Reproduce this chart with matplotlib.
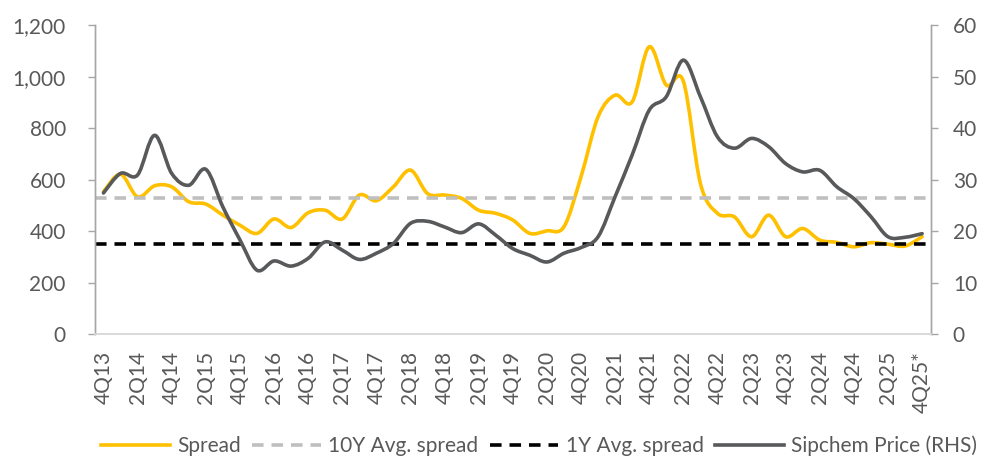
import numpy as np
import matplotlib
matplotlib.use("Agg")
import matplotlib.pyplot as plt
from matplotlib.path import Path
from matplotlib.patches import PathPatch
from matplotlib.lines import Line2D
from matplotlib.ticker import FuncFormatter

plt.rcParams['font.family'] = ['Lato', 'DejaVu Sans']

# Quarterly data, 4Q13 .. 4Q25*
spread = [553, 621, 533, 576, 572, 514, 505, 462, 423, 391,
          447, 414, 471, 481, 447, 540, 518, 572, 637, 546,
          540, 527, 481, 469, 443, 391, 401, 417, 611, 844,
          928, 902, 1116, 967, 982, 585, 469, 455, 378, 462,
          378, 410, 365, 356, 339, 355, 349, 342, 378]
sipchem = [27.4, 31.2, 30.9, 38.6, 31.2, 28.9, 32.0, 24.7, 18.3, 12.4,
           14.2, 13.2, 14.7, 17.9, 16.3, 14.5, 15.7, 17.6, 21.5, 21.9,
           20.8, 19.7, 21.4, 19.2, 16.6, 15.3, 14.0, 15.7, 16.8, 18.9,
           26.7, 34.8, 43.5, 46.1, 53.2, 46.1, 38.3, 36.1, 38.0, 36.4,
           33.1, 31.5, 31.8, 28.6, 26.3, 22.8, 18.9, 18.8, 19.5]
avg_10y = 527
avg_1y = 349
tick_labels = ['4Q13', '2Q14', '4Q14', '2Q15', '4Q15', '2Q16', '4Q16', '2Q17',
               '4Q17', '2Q18', '4Q18', '2Q19', '4Q19', '2Q20', '4Q20', '2Q21',
               '4Q21', '2Q22', '4Q22', '2Q23', '4Q23', '2Q24', '4Q24', '2Q25',
               '4Q25*']

YELLOW = '#FFC000'
DARK = '#58595B'
LIGHT = '#BFBFBF'
TEXT = '#595959'
FS = 15


def smooth_path(x, y):
    # Catmull-Rom style cubic Bezier through every point (like a smoothed line)
    x = np.asarray(x, float)
    y = np.asarray(y, float)
    n = len(x)
    verts = [(x[0], y[0])]
    codes = [Path.MOVETO]
    for i in range(n - 1):
        p0 = np.array([x[max(i - 1, 0)], y[max(i - 1, 0)]])
        p1 = np.array([x[i], y[i]])
        p2 = np.array([x[i + 1], y[i + 1]])
        p3 = np.array([x[min(i + 2, n - 1)], y[min(i + 2, n - 1)]])
        c1 = p1 + (p2 - p0) / 6.0
        c2 = p2 - (p3 - p1) / 6.0
        verts += [tuple(c1), tuple(c2), tuple(p2)]
        codes += [Path.CURVE4] * 3
    return Path(verts, codes)


x = np.arange(len(spread))

fig = plt.figure(figsize=(9.89, 4.57), dpi=100)
ax = fig.add_axes([0.096, 0.269, 0.845, 0.676])
ax2 = ax.twinx()

ax.axhline(avg_10y, color=LIGHT, lw=2.6, ls=(0, (3.2, 2.2)))
ax.axhline(avg_1y, color='black', lw=2.6, ls=(0, (3.2, 2.2)))
ax.add_patch(PathPatch(smooth_path(x, spread), facecolor='none',
                       edgecolor=YELLOW, lw=2.6, capstyle='round',
                       joinstyle='round'))
ax2.add_patch(PathPatch(smooth_path(x, sipchem), facecolor='none',
                        edgecolor=DARK, lw=2.6, capstyle='round',
                        joinstyle='round'))

ax.set_xlim(-0.5, len(spread) - 0.5)
ax.set_ylim(0, 1200)
ax2.set_ylim(0, 60)
ax.set_yticks(np.arange(0, 1201, 200))
ax2.set_yticks(np.arange(0, 61, 10))
ax.yaxis.set_major_formatter(FuncFormatter(lambda v, p: f'{int(v):,}'))

ax.set_xticks(x[::2])
ax.set_xticklabels(tick_labels, rotation=90)

for a in (ax, ax2):
    a.spines['top'].set_visible(False)
    a.spines['left'].set_color('#A6A6A6')
    a.spines['right'].set_color('#A6A6A6')
    a.spines['bottom'].set_color('#D9D9D9')
    a.spines['left'].set_linewidth(1.0)
    a.spines['right'].set_linewidth(1.0)
    a.spines['bottom'].set_linewidth(1.2)
    a.tick_params(axis='y', colors='#A6A6A6', labelcolor=TEXT,
                  labelsize=FS, length=5, width=1.0)
ax.tick_params(axis='y', pad=16)
ax2.tick_params(axis='y', pad=11)
ax.tick_params(axis='x', length=0, labelcolor=TEXT, labelsize=FS, pad=12)

handles = [
    Line2D([], [], color=YELLOW, lw=2.6),
    Line2D([], [], color=LIGHT, lw=2.6, ls=(0, (3.2, 2.2))),
    Line2D([], [], color='black', lw=2.6, ls=(0, (3.2, 2.2))),
    Line2D([], [], color=DARK, lw=2.6),
]
labels = ['Spread', '10Y Avg. spread', '1Y Avg. spread', 'Sipchem Price (RHS)']
leg = fig.legend(handles, labels, loc='lower center', ncol=4, frameon=False,
                 bbox_to_anchor=(0.545, -0.039), fontsize=FS,
                 handlelength=3.3, handletextpad=0.35, columnspacing=0.55)
for t in leg.get_texts():
    t.set_color(TEXT)

fig.savefig('out.png', dpi=100)
